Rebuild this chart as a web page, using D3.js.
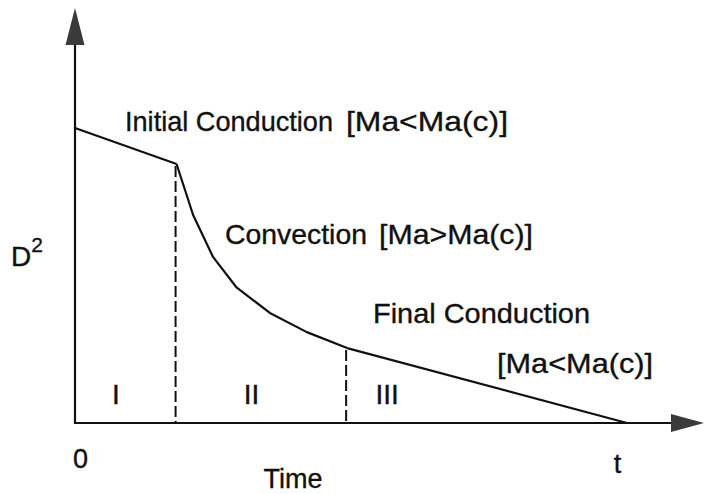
<!DOCTYPE html>
<html>
<head>
<meta charset="utf-8">
<script src="https://cdn.jsdelivr.net/npm/d3@7"></script>
<style>
  html, body { margin: 0; padding: 0; background: #fff; }
  svg { display: block; }
  text { font-family: "Liberation Sans", Arial, Helvetica, sans-serif; fill: #111; stroke: #111; stroke-width: 0.35px; }
</style>
</head>
<body>
<script>
// ---- data (normalised time 0..100, normalised D^2 0..1) ----
const initialConduction = [
  { t: 0,    d2: 1.000 },
  { t: 18.4, d2: 0.878 }
];
const convection = [
  { t: 18.4, d2: 0.878 },
  { t: 21.4, d2: 0.705 },
  { t: 25.0, d2: 0.563 },
  { t: 29.2, d2: 0.461 },
  { t: 35.3, d2: 0.373 },
  { t: 42.0, d2: 0.308 },
  { t: 49.3, d2: 0.254 }
];
const finalConduction = [
  { t: 49.3, d2: 0.254 },
  { t: 100,  d2: 0.000 }
];
const boundaries = [18.4, 49.3];
const regimeLabels = ["I", "II", "III"];
const tickValues = [0, 100];
const tickLabels = ["0", "t"];
const xTitle = "Time";
const yTitle = "D";
const yTitleSup = "2";
const annotations = [
  { main: "Initial Conduction", cond: "[Ma<Ma(c)]" },
  { main: "Convection",        cond: "[Ma>Ma(c)]" },
  { main: "Final Conduction",  cond: "[Ma<Ma(c)]" }
];

// ---- layout ----
const W = 704, H = 494;
const svg = d3.select("body").append("svg").attr("width", W).attr("height", H);

const x = d3.scaleLinear().domain([0, 100]).range([75, 627]);
const y = d3.scaleLinear().domain([0, 1]).range([423, 128]);
const x0 = x(0), y0 = y(0);

const ink = "#111";

// axes lines
svg.append("line").attr("x1", x0).attr("y1", y0 + 1).attr("x2", x0).attr("y2", 44)
  .attr("stroke", ink).attr("stroke-width", 2.2);
svg.append("line").attr("x1", x0 - 1).attr("y1", y0).attr("x2", 673).attr("y2", y0)
  .attr("stroke", ink).attr("stroke-width", 2.2);
// arrowheads
svg.append("path").attr("d", `M${x0},8 L${x0 + 9.5},45 L${x0 - 9.5},45 Z`).attr("fill", "#3a3a3a");
svg.append("path").attr("d", `M704,${y0} L671,${y0 - 9} L671,${y0 + 9} Z`).attr("fill", "#3a3a3a");

// tick labels via d3 axis
const xAxis = d3.axisBottom(x).tickValues(tickValues).tickSize(0)
  .tickFormat((d, i) => tickLabels[i]);
const gx = svg.append("g").attr("transform", `translate(0,${y0})`).call(xAxis);
gx.select(".domain").remove();
gx.selectAll("text")
  .style("font-size", "27px")
  .style("font-family", "'Liberation Sans', Arial, sans-serif")
  .attr("fill", ink)
  .attr("y", 0).attr("dy", 0)
  .attr("text-anchor", "middle")
  .attr("transform", (d, i) => i === 0 ? "translate(5,45)" : "translate(-10,50)");

// dashed boundaries
svg.selectAll("line.bound").data(boundaries).enter().append("line")
  .attr("class", "bound")
  .attr("x1", d => x(d) - 1).attr("x2", d => x(d) - 1)
  .attr("y1", (d, i) => y(i === 0 ? initialConduction[1].d2 : finalConduction[0].d2) + 2)
  .attr("y2", y0)
  .attr("stroke", ink).attr("stroke-width", 2)
  .attr("stroke-dasharray", "11,4");

// curve
const line = d3.line().x(d => x(d.t)).y(d => y(d.d2)).curve(d3.curveLinear);
[initialConduction, convection, finalConduction].forEach(seg => {
  svg.append("path").datum(seg).attr("d", line)
    .attr("fill", "none").attr("stroke", ink).attr("stroke-width", 2.2)
    .attr("stroke-linejoin", "round");
});

// regime labels
const regimeX = [x0 + 41, x(boundaries[0]) + 75, x(boundaries[1]) + 40];
svg.selectAll("text.regime").data(regimeLabels).enter().append("text")
  .attr("class", "regime")
  .attr("x", (d, i) => regimeX[i]).attr("y", 404)
  .attr("text-anchor", "middle")
  .style("font-size", "28px")
  .text(d => d);

// annotations
function label(txt, xs, yb, len) {
  svg.append("text").attr("x", xs).attr("y", yb)
    .style("font-size", "28px")
    .attr("textLength", len).attr("lengthAdjust", "spacingAndGlyphs")
    .text(txt);
}
label(annotations[0].main, 125, 131, 208);
label(annotations[0].cond, 346, 131, 162);
label(annotations[1].main, 225, 244, 142);
label(annotations[1].cond, 379, 244, 154);
label(annotations[2].main, 373, 323, 217);
label(annotations[2].cond, 497, 373, 156);

// axis titles
svg.append("text").attr("x", 293).attr("y", 488).attr("text-anchor", "middle")
  .style("font-size", "27px").text(xTitle);
const yt = svg.append("text").attr("x", 11).attr("y", 266).style("font-size", "28px");
yt.append("tspan").text(yTitle);
yt.append("tspan").attr("dy", -14).style("font-size", "21px").text(yTitleSup);
</script>
</body>
</html>
